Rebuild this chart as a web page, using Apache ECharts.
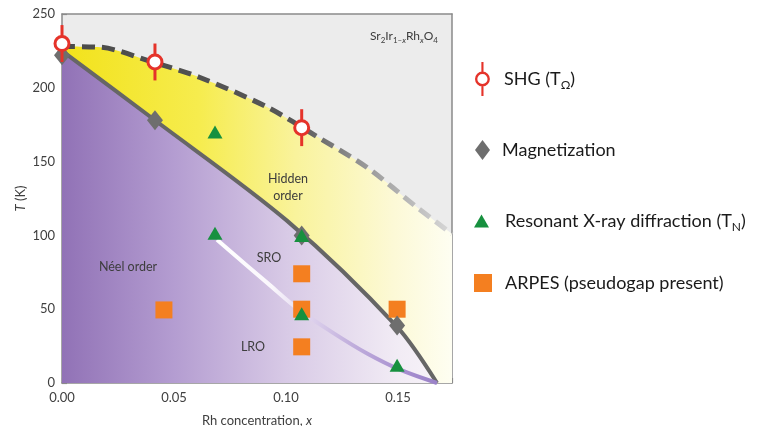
<!DOCTYPE html>
<html><head><meta charset="utf-8">
<script src="https://cdn.jsdelivr.net/npm/echarts@6/dist/echarts.min.js"></script>
<style>html,body{margin:0;padding:0;background:#fff}#c{width:760px;height:426px}</style>
</head><body><div id="c"></div>
<script>
// ---- data ----
const xLabelValues = [0, 0.05, 0.10, 0.15];
const yLabelValues = [0, 50, 100, 150, 200, 250];

// SHG (T_Omega) with vertical error bars
const shgX = [0, 0.0415, 0.107];
const shgT = [230, 217.5, 173];
const shgErr = [12.5, 12.5, 12.5];
// Magnetization
const magX = [0, 0.0415, 0.107, 0.1496];
const magT = [222, 178, 100, 39];
// Resonant X-ray diffraction (T_N)
const rxdX = [0.0683, 0.0683, 0.107, 0.107, 0.1496];
const rxdT = [170, 101.5, 100, 47, 12];
// ARPES (pseudogap present)
const arpesX = [0.0455, 0.107, 0.107, 0.107, 0.1496];
const arpesT = [49.5, 74, 50, 24.5, 50];
// Hidden-order boundary (dashed)
const hiddenX = [0, 0.017, 0.0393, 0.0616, 0.0915, 0.1138, 0.1362, 0.1585, 0.1741];
const hiddenT = [228, 227.5, 218, 207, 187, 167, 146, 119, 101];
// Neel boundary (solid)
const neelX = [0, 0.0415, 0.1004, 0.1496, 0.1674];
const neelT = [225, 178, 110, 38, 0];
// SRO / LRO crossover
const sroX = [0.0692, 0.0915, 0.1063, 0.121, 0.1362, 0.1509, 0.1674];
const sroT = [97, 68, 49, 34, 20, 9, 0];

const zip = (a, b) => a.map((v, i) => [v, b[i]]);
const near = (v, arr) => arr.some(a => Math.abs(a - v) < 1e-6);

const F = 'Lato, "Open Sans", sans-serif';
const RED = '#e5332a', GRAY = '#6e6e6e', GREEN = '#17903f', ORANGE = '#f47f20';

const yellowGrad = {type:'linear', x:62, y:0, x2:452, y2:0, global:true, colorStops:[
  {offset:0, color:'#f2e21a'}, {offset:0.35, color:'#f6ec4e'}, {offset:0.6, color:'#f9f39c'},
  {offset:0.85, color:'#fcf9d6'}, {offset:1, color:'#fefef2'}]};
const purpleGrad = {type:'linear', x:62, y:0, x2:437, y2:0, global:true, colorStops:[
  {offset:0, color:'#9172b6'}, {offset:0.3, color:'#b49dd1'}, {offset:0.6, color:'#d8cae6'},
  {offset:0.9, color:'#f2ecf5'}, {offset:1, color:'#f7f3f8'}]};
const dashGrad = {type:'linear', x:62, y:0, x2:452, y2:0, global:true, colorStops:[
  {offset:0, color:'#4a4a4a'}, {offset:0.6, color:'#575757'}, {offset:0.78, color:'#999'},
  {offset:1, color:'#d8d8d8'}]};
const sroGrad = {type:'linear', x:217, y:0, x2:437, y2:0, global:true, colorStops:[
  {offset:0, color:'#ffffff'}, {offset:0.25, color:'#faf7fc'}, {offset:0.4, color:'#e2d7ef'},
  {offset:0.6, color:'#c2b0dd'}, {offset:0.85, color:'#a78fcf'}, {offset:1, color:'#9a82c8'}]};

// legend icon for SHG: ring with vertical error bar (two half arcs per circle)
const shgIcon = 'path://M6,0L8,0L8,9.2L6,9.2Z ' +
  'M7,9A7,7 0 0 1 7,23A7,7 0 0 1 7,9Z ' +
  'M7,11.2A4.8,4.8 0 0 0 7,20.8A4.8,4.8 0 0 0 7,11.2Z ' +
  'M6,22.8L8,22.8L8,32L6,32Z';

const legendText = {fontFamily:F, fontSize:18, color:'#1a1a1a', lineHeight:24,
  rich:{sub:{fontFamily:F, fontSize:12, color:'#1a1a1a', lineHeight:12, verticalAlign:'bottom'}}};
function mkLegend(name, icon, w, h, left, top, pad, color, label){
  return {show:true, selectedMode:false, orient:'vertical', left:left, top:top, padding:0,
    itemWidth:w, itemHeight:h,
    data:[{name:name, icon:icon, itemStyle:{color:color, borderWidth:0}}],
    formatter: () => label,
    textStyle: Object.assign({}, legendText, {padding:[0,0,0,pad]})};
}

const chart = echarts.init(document.getElementById('c'), null, {renderer:'canvas'});
chart.setOption({
  backgroundColor:'#ffffff',
  animation:false,
  grid:{left:62, right:308, top:14, bottom:43, show:true, backgroundColor:'#ececec', borderWidth:0,
    outerBoundsMode:'none', containLabel:false},
  xAxis:[{
    type:'value', min:0, max:0.1741, interval:0.025,
    axisLine:{show:true, onZero:false, lineStyle:{color:'#8a8a8a', width:1.5}},
    axisTick:{show:true, inside:true, length:5, lineStyle:{color:'#8a8a8a', width:1.2}},
    axisLabel:{formatter: v => near(v, xLabelValues) ? v.toFixed(2) : '', color:'#404040',
      fontFamily:F, fontSize:13, margin:8},
    splitLine:{show:false},
    name:'Rh concentration, {i|x}', nameLocation:'middle', nameGap:31, nameMoveOverlap:false,
    nameTextStyle:{fontFamily:F, fontSize:13, color:'#404040',
      rich:{i:{fontFamily:F, fontSize:13, fontStyle:'italic', color:'#404040'}}}
  },{
    type:'value', position:'top', min:0, max:0.1741,
    axisLine:{show:true, onZero:false, lineStyle:{color:'#8a8a8a', width:1.5}},
    axisTick:{show:false}, axisLabel:{show:false}, splitLine:{show:false}
  }],
  yAxis:[{
    type:'value', min:0, max:250, interval:25,
    axisLine:{show:true, onZero:false, lineStyle:{color:'#8a8a8a', width:1.5}},
    axisTick:{show:true, inside:true, length:5, lineStyle:{color:'#8a8a8a', width:1.2}},
    axisLabel:{formatter: v => near(v, yLabelValues) ? String(v) : '', color:'#404040',
      fontFamily:F, fontSize:13, margin:7},
    splitLine:{show:false},
    name:'{i|T} (K)', nameLocation:'middle', nameGap:35, nameMoveOverlap:false,
    nameTextStyle:{fontFamily:F, fontSize:13, color:'#404040',
      rich:{i:{fontFamily:F, fontSize:13, fontStyle:'italic', color:'#404040'}}}
  },{
    type:'value', position:'right', min:0, max:250,
    axisLine:{show:true, onZero:false, lineStyle:{color:'#8a8a8a', width:1.5}},
    axisTick:{show:false}, axisLabel:{show:false}, splitLine:{show:false}
  }],
  legend:[
    mkLegend('SHG', shgIcon, 15, 34, 475, 62, 9, RED, 'SHG (T{sub|Ω})'),
    mkLegend('Magnetization', 'diamond', 15, 20, 475, 138, 7, GRAY, 'Magnetization'),
    mkLegend('RXD', 'triangle', 15, 13, 474, 209, 11, GREEN, 'Resonant X-ray diffraction (T{sub|N})'),
    mkLegend('ARPES', 'rect', 18, 18, 474, 271, 8, ORANGE, 'ARPES (pseudogap present)')
  ],
  graphic:[
    {type:'text', x:438, y:36, z:50, style:{text:'Sr{s|2}Ir{s|1–}{si|x}Rh{si|x}O{s|4}', fill:'#3d3d3d',
      font:'12px '+F, align:'right', verticalAlign:'middle', lineHeight:16,
      rich:{s:{fontSize:8, fontFamily:F, fill:'#3d3d3d', lineHeight:9, verticalAlign:'bottom'},
            si:{fontSize:8, fontFamily:F, fontStyle:'italic', fill:'#3d3d3d', lineHeight:9, verticalAlign:'bottom'}}}},
    {type:'text', x:288, y:187, z:50, style:{text:'Hidden\norder', fill:'#3d3d3d', font:'12.5px '+F,
      align:'center', verticalAlign:'middle', lineHeight:17}},
    {type:'text', x:128, y:267, z:50, style:{text:'Néel order', fill:'#3d3d3d', font:'12.5px '+F,
      align:'center', verticalAlign:'middle'}},
    {type:'text', x:269, y:258, z:50, style:{text:'SRO', fill:'#3d3d3d', font:'12.5px '+F,
      align:'center', verticalAlign:'middle'}},
    {type:'text', x:253, y:347, z:50, style:{text:'LRO', fill:'#3d3d3d', font:'12.5px '+F,
      align:'center', verticalAlign:'middle'}}
  ],
  series:[
    {type:'line', name:'hiddenBoundary', data:zip(hiddenX, hiddenT), smooth:0.3, symbol:'none', silent:true,
      lineStyle:{width:5, type:[13,7], color:dashGrad, cap:'butt'},
      areaStyle:{color:yellowGrad, opacity:1}, z:2},
    {type:'line', name:'neelBoundary', data:zip(neelX, neelT), smooth:0.3, symbol:'none', silent:true,
      lineStyle:{width:4, color:'#666666'},
      areaStyle:{color:purpleGrad, opacity:1}, z:3},
    {type:'line', name:'sroBoundary', data:zip(sroX, sroT), smooth:0.35, symbol:'none', silent:true,
      lineStyle:{width:4, color:sroGrad}, z:4},
    {type:'scatter', name:'ARPES', data:zip(arpesX, arpesT), symbol:'rect', symbolSize:17,
      itemStyle:{color:ORANGE, opacity:1}, z:5},
    {type:'scatter', name:'Magnetization', data:zip(magX, magT), symbol:'diamond', symbolSize:[16,20],
      itemStyle:{color:GRAY, opacity:1}, z:6, clip:false},
    {type:'scatter', name:'RXD', data:zip(rxdX, rxdT), symbol:'triangle', symbolSize:[15,13],
      itemStyle:{color:GREEN, opacity:1}, z:7},
    {type:'custom', name:'shgErr', data:shgX.map((x,i)=>[x, shgT[i], shgErr[i]]), encode:{x:0, y:1},
      clip:false, silent:true, z:8,
      renderItem:(params, api) => {
        const x = api.value(0), t = api.value(1), e = api.value(2);
        const p1 = api.coord([x, t + e]), p2 = api.coord([x, t - e]);
        return {type:'line', shape:{x1:p1[0], y1:p1[1], x2:p2[0], y2:p2[1]},
          style:{stroke:RED, lineWidth:3}};
      }},
    {type:'scatter', name:'SHG', data:zip(shgX, shgT), symbol:'circle', symbolSize:14, clip:false,
      itemStyle:{color:'#ffffff', borderColor:RED, borderWidth:3, opacity:1}, z:9}
  ]
});
</script></body></html>
